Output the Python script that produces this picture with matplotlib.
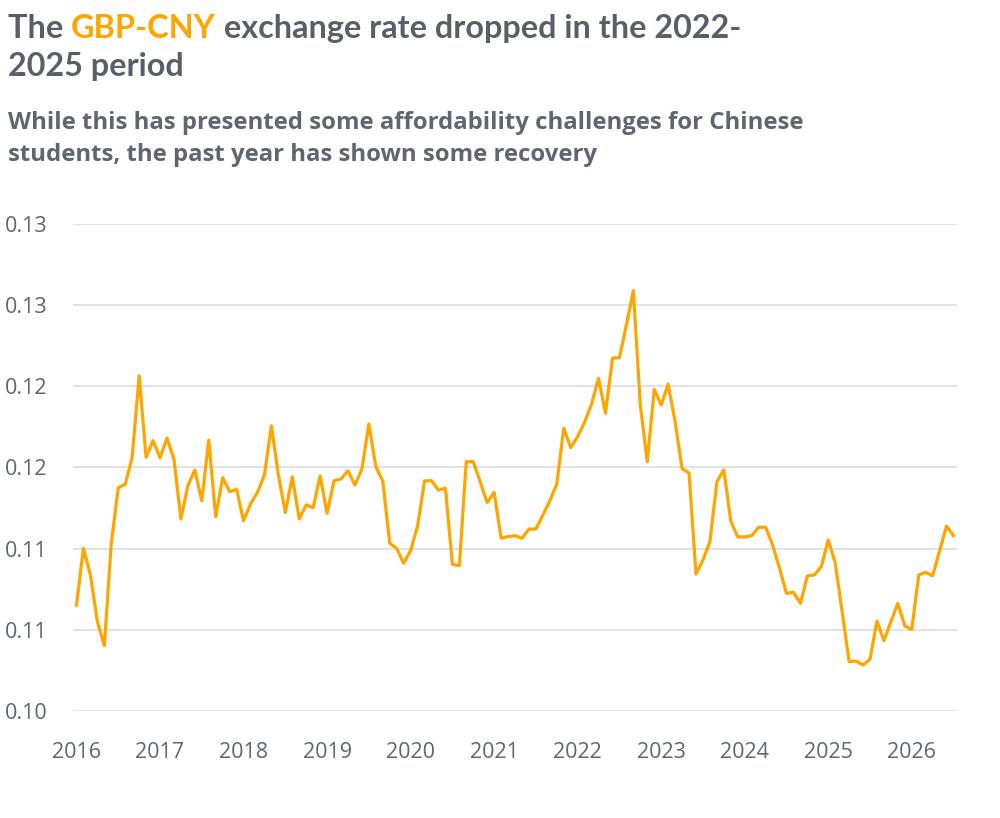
import numpy as np
import matplotlib.pyplot as plt

# monthly rate, Jan 2016 onwards
rate = [
    0.10653, 0.11002, 0.10838, 0.10550, 0.10402, 0.11033, 0.11376, 0.11396, 0.11563, 0.12064,
    0.11563, 0.11665, 0.11560, 0.11680, 0.11552, 0.11183, 0.11388, 0.11485, 0.11295, 0.11669,
    0.11197, 0.11437, 0.11351, 0.11366, 0.11172, 0.11275, 0.11347, 0.11454, 0.11757, 0.11454,
    0.11222, 0.11443, 0.11183, 0.11269, 0.11252, 0.11448, 0.11218, 0.11418, 0.11429, 0.11480,
    0.11392, 0.11489, 0.11768, 0.11505, 0.11417, 0.11033, 0.11002, 0.10910, 0.10987, 0.11140,
    0.11417, 0.11419, 0.11361, 0.11372, 0.10904, 0.10895, 0.11536, 0.11536, 0.11412, 0.11283,
    0.11347, 0.11064, 0.11074, 0.11080, 0.11064, 0.11121, 0.11121, 0.11207, 0.11295, 0.11398,
    0.11741, 0.11622, 0.11691, 0.11780, 0.11891, 0.12049, 0.11834, 0.12173, 0.12176, 0.12378,
    0.12589, 0.11885, 0.11536, 0.11982, 0.11885, 0.12014, 0.11782, 0.11493, 0.11466, 0.10844,
    0.10930, 0.11043, 0.11412, 0.11485, 0.11169, 0.11072, 0.11072, 0.11080, 0.11132, 0.11132,
    0.11023, 0.10879, 0.10725, 0.10731, 0.10663, 0.10832, 0.10838, 0.10889, 0.11053, 0.10914,
    0.10610, 0.10304, 0.10308, 0.10283, 0.10318, 0.10554, 0.10433, 0.10550, 0.10663, 0.10524,
    0.10503, 0.10838, 0.10854, 0.10833, 0.10987, 0.11140, 0.11080,
]
years = list(range(2016, 2027))
y_ticks = [0.100, 0.105, 0.110, 0.115, 0.120, 0.125, 0.130]
y_labels = ['0.10', '0.11', '0.11', '0.12', '0.12', '0.13', '0.13']

grey = '#595f69'
orange = '#ffa500'

fig = plt.figure(figsize=(10, 8.18), dpi=100)
ax = fig.add_axes([0.073, 0.1308, 0.884, 0.5954])

months = np.arange(len(rate))
ax.plot(months, rate, color=orange, lw=2.3, solid_joinstyle='round')

ax.set_xlim(-0.5, len(rate) - 0.5)
ax.set_ylim(0.100, 0.130)
ax.set_yticks(y_ticks)
ax.set_yticklabels(y_labels)
ax.set_xticks([(y - 2016) * 12 for y in years])
ax.set_xticklabels([str(y) for y in years])
ax.grid(axis='y', color='#dcdee3', lw=1.2)
ax.set_axisbelow(True)
for s in ax.spines.values():
    s.set_visible(False)
ax.tick_params(length=0, labelsize=15.5, labelcolor='#5f6670')
ax.tick_params(axis='x', pad=22)
ax.tick_params(axis='y', pad=0)
for lab in ax.get_yticklabels():
    lab.set_horizontalalignment('left')
    lab.set_x(-0.068 / 0.884)
for lab in ax.get_xticklabels() + ax.get_yticklabels():
    lab.set_family('Open Sans')

# title with the coloured bit
r = fig.canvas.get_renderer()
tfont = dict(family='Lato', weight='bold', size=23.3)
x = 0.008
y1 = 1 - 38 / 818
for txt, col in [('The ', grey), ('GBP-CNY', orange), (' exchange rate dropped in the 2022-', grey)]:
    t = fig.text(x, y1, txt, color=col, va='baseline', **tfont)
    x += t.get_window_extent(r).width / fig.bbox.width
fig.text(0.008, 1 - 76 / 818, '2025 period', color=grey, va='baseline', **tfont)

sfont = dict(family='Open Sans', weight='bold', size=17.2, color='#5f6670')
fig.text(0.008, 1 - 129 / 818, 'While this has presented some affordability challenges for Chinese',
         va='baseline', **sfont)
fig.text(0.008, 1 - 161 / 818, 'students, the past year has shown some recovery', va='baseline', **sfont)

fig.savefig('out.png', dpi=100, facecolor='white')
